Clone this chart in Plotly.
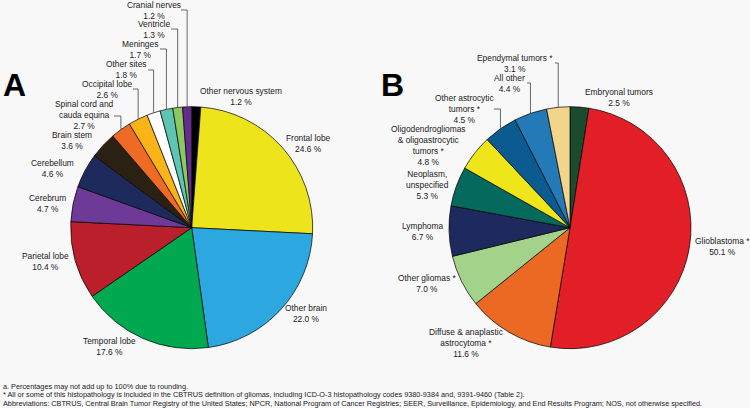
import math
import plotly.graph_objects as go

W, H = 750, 408

# ---- Panel A data (clockwise from 12 o'clock) ----
a_labels = ["Other nervous system", "Frontal lobe", "Other brain", "Temporal lobe",
            "Parietal lobe", "Cerebrum", "Cerebellum", "Brain stem",
            "Spinal cord and cauda equina", "Occipital lobe", "Other sites",
            "Meninges", "Ventricle", "Cranial nerves"]
a_values = [1.2, 24.6, 22.0, 17.6, 10.4, 4.7, 4.6, 3.6, 2.7, 2.6, 1.8, 1.7, 1.3, 1.2]
a_colors = ["#000000", "#EEE41C", "#2CA7E0", "#00A94F", "#BA1F2B", "#6F3A97",
            "#1F2A5C", "#2B2113", "#EE6A25", "#FBB417", "#FFFFFF", "#5DC5B1",
            "#8CC764", "#652C8C"]
a_text = ["Other nervous system<br>1.2 %", "Frontal lobe<br>24.6 %", "Other brain<br>22.0 %",
          "Temporal lobe<br>17.6 %", "Parietal lobe<br>10.4 %", "Cerebrum<br>4.7 %",
          "Cerebellum<br>4.6 %", "Brain stem<br>3.6 %",
          "Spinal cord and<br>cauda equina<br>2.7 %", "Occipital lobe<br>2.6 %",
          "Other sites<br>1.8 %", "Meninges<br>1.7 %", "Ventricle<br>1.3 %",
          "Cranial nerves<br>1.2 %"]

# ---- Panel B data (clockwise from 12 o'clock) ----
b_labels = ["Embryonal tumors", "Glioblastoma *", "Diffuse & anaplastic astrocytoma *",
            "Other gliomas *", "Lymphoma", "Neoplasm, unspecified",
            "Oligodendrogliomas & oligoastrocytic tumors *", "Other astrocytic tumors *",
            "All other", "Ependymal tumors *"]
b_values = [2.5, 50.1, 11.6, 7.0, 6.7, 5.3, 4.8, 4.5, 4.4, 3.1]
b_colors = ["#1A4B2D", "#E21F27", "#EC6924", "#A3D28A", "#1E2A5E", "#056A5E",
            "#EEE51B", "#0B5B91", "#2479B7", "#F3D58C"]
b_text = ["Embryonal tumors<br>2.5 %", "Glioblastoma *<br>50.1 %",
          "Diffuse & anaplastic<br>astrocytoma *<br>11.6 %", "Other gliomas *<br>7.0 %",
          "Lymphoma<br>6.7 %", "Neoplasm,<br>unspecified<br>5.3 %",
          "Oligodendrogliomas<br>& oligoastrocytic<br>tumors *<br>4.8 %",
          "Other astrocytic<br>tumors *<br>4.5 %", "All other<br>4.4 %",
          "Ependymal tumors *<br>3.1 %"]

footnotes = [
    "a. Percentages may not add up to 100% due to rounding.",
    "* All or some of this histopathology is included in the CBTRUS definition of gliomas, including ICD-O-3 histopathology codes 9380-9384 and, 9391-9460 (Table 2).",
    "Abbreviations: CBTRUS, Central Brain Tumor Registry of the United States; NPCR, National Program of Cancer Registries; SEER, Surveillance, Epidemiology, and End Results Program; NOS, not otherwise specified.",
]

# ---- layout geometry (pixels) ----
A_C = (191.7, 227.7)
B_C = (570.0, 227.7)
R = 121.0

# label centres (x, y) in pixels
a_pos = [(241, 96), (308, 143), (306, 313), (109, 346), (45, 261), (47, 203),
         (52, 168), (72, 140), (84, 115), (108, 89.5), (126, 69), (140, 49),
         (154, 29.5), (154, 10)]
b_pos = [(619, 97), (722, 247), (466, 343), (427, 283), (423, 231), (427, 185),
         (428, 145), (464, 109), (509, 83.5), (515, 63.5)]
# leader lines: index -> (start x, line y)
a_lead = {8: (114, 116), 9: (133, 89), 10: (148, 70), 11: (160, 49), 12: (171, 29), 13: (181, 10)}
b_lead = {7: (494, 109), 8: (527, 83), 9: (555, 63)}


def px(x):
    return x / W


def py(y):
    return 1 - y / H


def dom(c):
    return dict(x=[px(c[0] - R), px(c[0] + R)], y=[py(c[1] + R), py(c[1] - R)])


fig = go.Figure()
for vals, labs, cols, c in [(a_values, a_labels, a_colors, A_C), (b_values, b_labels, b_colors, B_C)]:
    fig.add_trace(go.Pie(
        values=vals, labels=labs, sort=False, direction="clockwise", rotation=0,
        marker=dict(colors=cols, line=dict(color="#000000", width=0.7)),
        textinfo="none", hoverinfo="label+value", domain=dom(c), showlegend=False,
    ))

annotations = []
shapes = []
lab_font = dict(family="Liberation Sans, Arial, sans-serif", size=8.4, color="#222222")


def mid_point(vals, i, c):
    tot = sum(vals)
    frac = (sum(vals[:i]) + vals[i] / 2) / tot
    ang = 2 * math.pi * frac
    return c[0] + R * math.sin(ang), c[1] - R * math.cos(ang)


for vals, texts, pos, lead, c in [(a_values, a_text, a_pos, a_lead, A_C),
                                  (b_values, b_text, b_pos, b_lead, B_C)]:
    for i, t in enumerate(texts):
        annotations.append(dict(x=px(pos[i][0]), y=py(pos[i][1]), xref="paper", yref="paper",
                                text=t, showarrow=False, xanchor="center", yanchor="middle",
                                font=lab_font, align="center"))
    for i, (sx, ly) in lead.items():
        mx, my = mid_point(vals, i, c)
        shapes.append(dict(type="path", xref="paper", yref="paper",
                           path=f"M {px(sx)},{py(ly)} L {px(mx)},{py(ly)} L {px(mx)},{py(my)}",
                           line=dict(color="#444444", width=0.8)))

annotations.append(dict(x=px(1), y=py(85), xref="paper", yref="paper", text="<b>A</b>",
                        showarrow=False, xanchor="left", yanchor="middle",
                        font=dict(family="Liberation Sans, Arial, sans-serif", size=32, color="#000000")))
annotations.append(dict(x=px(379), y=py(85), xref="paper", yref="paper", text="<b>B</b>",
                        showarrow=False, xanchor="left", yanchor="middle",
                        font=dict(family="Liberation Sans, Arial, sans-serif", size=32, color="#000000")))

for k, (t, y) in enumerate(zip(footnotes, [386, 394.5, 403])):
    annotations.append(dict(x=px(1), y=py(y), xref="paper", yref="paper", text=t,
                            showarrow=False, xanchor="left", yanchor="middle",
                            font=dict(family="Liberation Sans, Arial, sans-serif", size=7.3, color="#222222")))

fig.update_layout(
    width=W, height=H, margin=dict(l=0, r=0, t=0, b=0),
    paper_bgcolor="#F8F8F8", plot_bgcolor="#F8F8F8",
    annotations=annotations, shapes=shapes, showlegend=False,
)

fig.write_html("out.html", config={"displayModeBar": False},
               post_script="document.body.style.margin='0';document.body.style.overflow='hidden';")
